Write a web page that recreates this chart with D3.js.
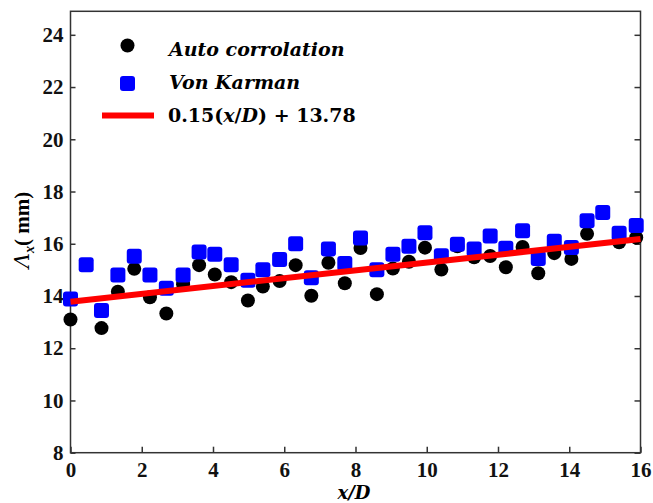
<!DOCTYPE html>
<html>
<head>
<meta charset="utf-8">
<script src="https://cdn.jsdelivr.net/npm/d3@7"></script>
<style>
  body { margin: 0; background: #fff; }
  .leg { font-family: "DejaVu Serif", serif; font-weight: bold; font-style: italic; font-size: 19px; }
</style>
</head>
<body>
<div id="chart"></div>
<script>
// width and height of the picture
var width = 653;
var height = 503;

// x/D positions of the measurements
var xPos = [0, 0.44, 0.87, 1.33, 1.79, 2.23, 2.69, 3.16, 3.61, 4.05, 4.51, 4.98,
  5.4, 5.87, 6.32, 6.76, 7.24, 7.7, 8.14, 8.6, 9.05, 9.5, 9.95, 10.41,
  10.86, 11.33, 11.78, 12.22, 12.69, 13.13, 13.58, 14.06, 14.5, 14.94, 15.4, 15.88];

// auto correlation (black circles), null where hidden
var autoCorr = [13.1, null, 12.77, 14.16, 15.04, 13.95, 13.33, 14.45, 15.18, 14.82, 14.53, 13.83,
  14.36, 14.57, 15.18, 14.01, 15.27, 14.49, 15.84, 14.07, 15.05, 15.31, 15.85, 15.01,
  15.9, 15.48, 15.53, 15.1, 15.88, 14.87, 15.64, 15.42, 16.38, null, 16.06, 16.24];

// Von Karman (blue squares)
var vonKarman = [13.88, 15.2, 13.44, 14.8, 15.52, 14.8, 14.3, 14.8, 15.68, 15.6, 15.2, 14.6,
  15.0, 15.4, 16.0, 14.7, 15.8, 15.24, 16.22, 15.0, 15.6, 15.9, 16.42, 15.54,
  15.98, 15.8, 16.3, 15.83, 16.5, 15.44, 16.1, 15.86, 16.88, 17.2, 16.4, 16.7];

// linear fit
var fitSlope = 0.15;
var fitIntercept = 13.78;
var fitRange = [0, 16];

var xTicks = [0, 2, 4, 6, 8, 10, 12, 14, 16];
var yTicks = [8, 10, 12, 14, 16, 18, 20, 22, 24];

var x = d3.scaleLinear().domain([0, 16]).range([70.5, 640.5]);
var y = d3.scaleLinear().domain([8, 24.9]).range([452.7, 11.3]);

var svg = d3.select("#chart")
  .append("svg")
  .attr("width", width)
  .attr("height", height);

var tickStyle = function(g) {
  g.select(".domain").remove();
  g.selectAll(".tick line").attr("stroke", "#333").attr("stroke-width", 1.5);
  g.selectAll(".tick text")
    .style("font-family", "'Liberation Serif', 'Times New Roman', serif")
    .style("font-weight", "bold")
    .style("font-size", "21px")
    .attr("fill", "#111");
};

// axes (ticks pointing inward)
svg.append("g")
  .attr("transform", "translate(" + x(0) + ",0)")
  .call(d3.axisLeft(y).tickValues(yTicks).tickSizeInner(-5).tickSizeOuter(0).tickPadding(7).tickFormat(d3.format("d")))
  .call(tickStyle);

svg.append("g")
  .attr("transform", "translate(" + x(16) + ",0)")
  .call(d3.axisRight(y).tickValues(yTicks).tickSizeInner(-6).tickSizeOuter(0).tickFormat(""))
  .call(tickStyle);

svg.append("g")
  .attr("transform", "translate(0," + y(8) + ")")
  .call(d3.axisBottom(x).tickValues(xTicks).tickSizeInner(-6).tickSizeOuter(0).tickPadding(9).tickFormat(d3.format("d")))
  .call(tickStyle);

// frame
svg.append("rect")
  .attr("x", x(0))
  .attr("y", y(24.9))
  .attr("width", x(16) - x(0))
  .attr("height", y(8) - y(24.9))
  .attr("fill", "none")
  .attr("stroke", "#333")
  .attr("stroke-width", 1.5);

var pts = xPos.map(function(d, i) {
  return { x: d, a: autoCorr[i], v: vonKarman[i] };
});

// black circles
svg.append("g")
  .selectAll("circle")
  .data(pts.filter(function(d) { return d.a != null; }))
  .enter()
  .append("circle")
  .attr("cx", function(d) { return x(d.x); })
  .attr("cy", function(d) { return y(d.a); })
  .attr("r", 7)
  .attr("fill", "#000");

// blue squares
var sq = 15;
svg.append("g")
  .selectAll("rect")
  .data(pts)
  .enter()
  .append("rect")
  .attr("x", function(d) { return x(d.x) - sq / 2; })
  .attr("y", function(d) { return y(d.v) - sq / 2; })
  .attr("width", sq)
  .attr("height", sq)
  .attr("rx", 3)
  .attr("fill", "#0000ff");

// fit line
var line = d3.line()
  .x(function(d) { return x(d); })
  .y(function(d) { return y(fitSlope * d + fitIntercept); });

svg.append("path")
  .datum(fitRange)
  .attr("d", line)
  .attr("fill", "none")
  .attr("stroke", "#ff0000")
  .attr("stroke-width", 6);

// legend
var legend = svg.append("g").attr("class", "leg");
legend.append("circle").attr("cx", 127.5).attr("cy", 45.5).attr("r", 7).attr("fill", "#000");
legend.append("rect").attr("x", 120).attr("y", 76).attr("width", sq).attr("height", sq).attr("rx", 3).attr("fill", "#0000ff");
legend.append("line").attr("x1", 102).attr("x2", 154).attr("y1", 115.5).attr("y2", 115.5)
  .attr("stroke", "#ff0000").attr("stroke-width", 6);

legend.append("text").attr("x", 169).attr("y", 56).text("Auto corrolation");
legend.append("text").attr("x", 169).attr("y", 89).text("Von Karman");
var fitText = legend.append("text").attr("x", 168).attr("y", 122).style("font-style", "normal");
fitText.append("tspan").text("0.15(");
fitText.append("tspan").style("font-style", "italic").text("x");
fitText.append("tspan").text("/");
fitText.append("tspan").style("font-style", "italic").text("D");
fitText.append("tspan").text(") + 13.78");

// axis titles
svg.append("text")
  .attr("x", 354)
  .attr("y", 499)
  .attr("text-anchor", "middle")
  .style("font-family", "DejaVu Serif, serif")
  .style("font-weight", "bold")
  .style("font-style", "italic")
  .style("font-size", "18px")
  .text("x/D");

var yTitle = svg.append("text")
  .attr("transform", "translate(29,230) rotate(-90)")
  .attr("text-anchor", "middle")
  .style("font-family", "'Liberation Serif', serif")
  .style("font-weight", "bold")
  .style("font-size", "21px");
yTitle.append("tspan").style("font-style", "italic").style("font-family", "DejaVu Serif, serif").style("font-weight", "normal").text("Λ");
yTitle.append("tspan").attr("dy", 5).style("font-style", "italic").style("font-size", "14px").text("x");
yTitle.append("tspan").attr("dy", -5).text("( mm)");
</script>
</body>
</html>
